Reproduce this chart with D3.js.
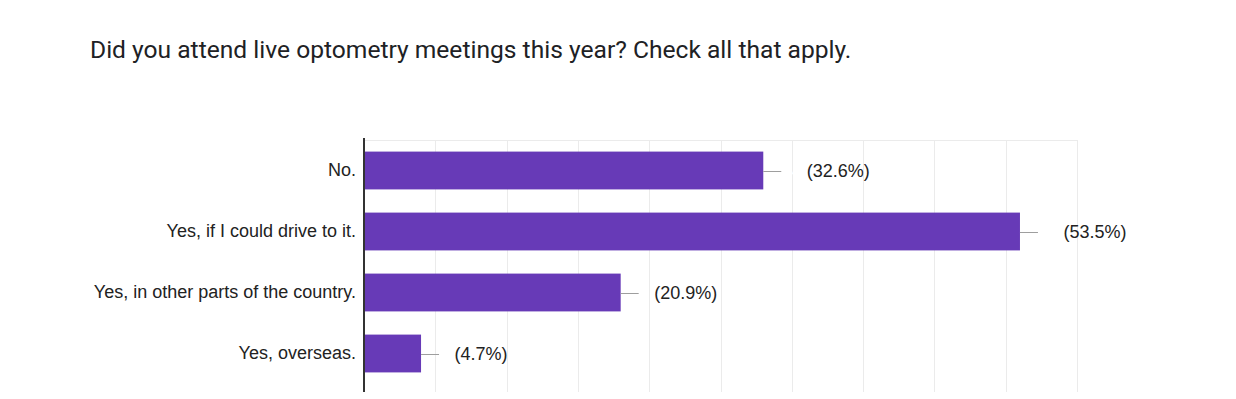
<!DOCTYPE html>
<html>
<head>
<meta charset="utf-8">
<script src="https://cdn.jsdelivr.net/npm/d3@7"></script>
<style>
  body { margin: 0; background: #fff; }
  svg { display: block; }
</style>
</head>
<body>
<svg id="chart" width="1236" height="399"></svg>
<script>
var title = 'Did you attend live optometry meetings this year? Check all that apply.';
var categories = ['No.', 'Yes, if I could drive to it.', 'Yes, in other parts of the country.', 'Yes, overseas.'];
var counts = [14, 23, 9, 2];
var percents = ['32.6%', '53.5%', '20.9%', '4.7%'];
var gridTicks = [0, 2.5, 5, 7.5, 10, 12.5, 15, 17.5, 20, 22.5, 25];

var svg = d3.select('#chart');

var x = d3.scaleLinear().domain([0, 25]).range([364, 1077]);
var y = d3.scaleBand()
  .domain(categories)
  .range([140, 384])
  .paddingInner(0.38)
  .paddingOuter(0.19);

svg.append('text')
  .attr('x', 90)
  .attr('y', 58)
  .attr('font-family', 'Roboto, sans-serif')
  .attr('font-size', 24.6)
  .attr('fill', '#202124')
  .text(title);

// grid
var grid = svg.append('g');
grid.selectAll('line.v')
  .data(gridTicks.slice(1))
  .enter()
  .append('line')
  .attr('x1', function (d) { return Math.round(x(d)) + 0.5; })
  .attr('x2', function (d) { return Math.round(x(d)) + 0.5; })
  .attr('y1', 140)
  .attr('y2', 392)
  .attr('stroke', '#ebebeb')
  .attr('stroke-width', 1);
grid.append('line')
  .attr('x1', x(0))
  .attr('x2', x(25) + 1)
  .attr('y1', 140.5)
  .attr('y2', 140.5)
  .attr('stroke', '#ebebeb');

// bars
var rows = categories.map(function (c, i) {
  return { cat: c, count: counts[i], pct: percents[i] };
});

var bars = svg.append('g');
bars.selectAll('rect')
  .data(rows)
  .enter()
  .append('rect')
  .attr('x', x(0))
  .attr('y', function (d) { return y(d.cat); })
  .attr('width', function (d) { return x(d.count) - x(0); })
  .attr('height', y.bandwidth())
  .attr('fill', '#673ab7');

// leader lines and labels
var labels = svg.append('g');
labels.selectAll('line')
  .data(rows)
  .enter()
  .append('line')
  .attr('x1', function (d) { return x(d.count); })
  .attr('x2', function (d) { return x(d.count) + 18; })
  .attr('y1', function (d) { return Math.round(y(d.cat) + y.bandwidth() / 2) + 0.5; })
  .attr('y2', function (d) { return Math.round(y(d.cat) + y.bandwidth() / 2) + 0.5; })
  .attr('stroke', '#9e9e9e')
  .attr('stroke-width', 1);

var valueText = labels.selectAll('text')
  .data(rows)
  .enter()
  .append('text')
  .attr('x', function (d) { return x(d.count) + 18.5; })
  .attr('y', function (d) { return y(d.cat) + y.bandwidth() / 2; })
  .attr('dy', '0.35em')
  .attr('font-family', 'Arial, "Liberation Sans", sans-serif')
  .attr('font-size', 18)
  .attr('fill', '#222');
valueText.append('tspan')
  .attr('fill', '#fff')
  .text(function (d) { return d.count + ' '; });
valueText.append('tspan')
  .text(function (d) { return '(' + d.pct + ')'; });

// category axis
var yAxis = svg.append('g')
  .attr('transform', 'translate(' + x(0) + ',0)')
  .call(d3.axisLeft(y).tickSize(0).tickPadding(8));
yAxis.select('.domain').remove();
yAxis.selectAll('text')
  .attr('font-family', 'Arial, "Liberation Sans", sans-serif')
  .attr('font-size', 18)
  .attr('fill', '#222');

svg.append('line')
  .attr('x1', x(0))
  .attr('x2', x(0))
  .attr('y1', 138)
  .attr('y2', 392)
  .attr('stroke', '#333')
  .attr('stroke-width', 2);
</script>
</body>
</html>
